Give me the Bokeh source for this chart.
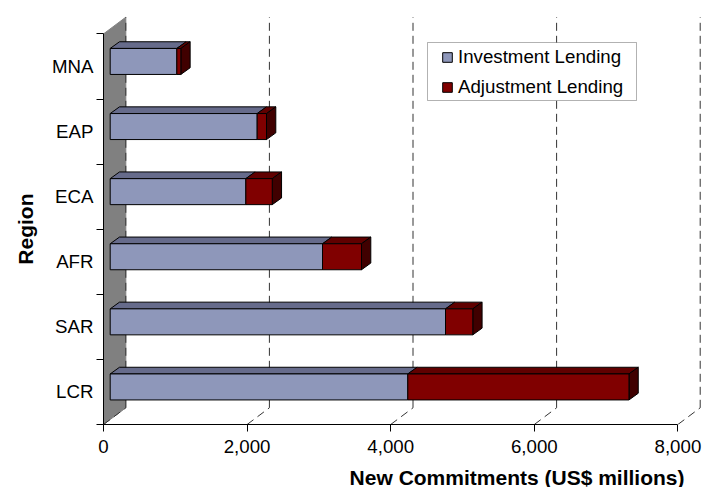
from bokeh.plotting import figure
from bokeh.models import FixedTicker, Legend, LegendItem, Range1d, Title, BoxAnnotation, NumeralTickFormatter
from bokeh.embed import file_html
from bokeh.resources import INLINE

regions = ["LCR", "SAR", "AFR", "ECA", "EAP", "MNA"]
investment = [4145, 4670, 2957, 1889, 2047, 928]
adjustment = [3080, 380, 543, 368, 130, 56]
x_ticks = [0, 2000, 4000, 6000, 8000]

PX_X = 0.0718          # pixels per US$ million
PX_Y = 65.1            # pixels per category
dX, dY = 22.3 / PX_X, 16.7 / PX_Y      # depth of the 3-D chart box
oX, oY = 6.7 / PX_X, 5.0 / PX_Y        # front-face offset of the bars
bX, bY = 9.3 / PX_X, 6.7 / PX_Y        # depth of each bar
bar_h = 26.0 / PX_Y

FONT = "Liberation Sans"
SIZE = "18.7px"
TITLE_SIZE = "21px"
BLUE, BLUE_TOP = "#8E97BA", "#666B8B"
RED, RED_TOP, RED_SIDE = "#800000", "#600000", "#400000"
n = len(regions)

p = figure(width=704, height=487, frame_width=601, frame_height=424,
           output_backend="svg", toolbar_location=None,
           x_range=Range1d(0, 601 / PX_X), y_range=Range1d(0, 424 / PX_Y),
           min_border_left=103, min_border_right=0, min_border_top=0, min_border_bottom=63,
           outline_line_color=None)
p.grid.visible = False

# back wall
p.patch([0, dX, dX, 0], [0, dY, n + dY, n], fill_color="#808080", line_color="#808080", line_width=1)

# dashed gridlines in the floor and on the back plane
for t in x_ticks:
    p.line([t, t + dX], [0, dY], line_color="#333333", line_width=1, line_dash="8 5")
    p.line([t + dX, t + dX], [dY, n + dY], line_color="#333333", line_width=1, line_dash="8 5")

# 3-D stacked bars
inv_face = None
adj_face = None
for i, (a, b) in enumerate(zip(investment, adjustment)):
    y0 = i + 0.5 + oY - bar_h / 2
    y1 = y0 + bar_h
    x0, x1, x2 = oX, oX + a, oX + a + b
    p.patch([x0, x1, x1 + bX, x0 + bX], [y1, y1, y1 + bY, y1 + bY],
            fill_color=BLUE_TOP, line_color="black", line_width=1)
    p.patch([x1, x2, x2 + bX, x1 + bX], [y1, y1, y1 + bY, y1 + bY],
            fill_color=RED_TOP, line_color="black", line_width=1)
    p.patch([x2, x2 + bX, x2 + bX, x2], [y0, y0 + bY, y1 + bY, y1],
            fill_color=RED_SIDE, line_color="black", line_width=1)
    inv_face = p.quad(left=[x0], right=[x1], bottom=[y0], top=[y1],
                      fill_color=BLUE, line_color="black", line_width=1)
    adj_face = p.quad(left=[x1], right=[x2], bottom=[y0], top=[y1],
                      fill_color=RED, line_color="black", line_width=1)

# axes
xa = p.xaxis[0]
xa.ticker = FixedTicker(ticks=x_ticks)
xa.formatter = NumeralTickFormatter(format="0,0")
xa.bounds = (0, 8000)
xa.major_tick_out = 7
xa.major_tick_in = 0
xa.minor_tick_out = 0
xa.minor_tick_in = 0
xa.major_label_standoff = 8
xa.major_label_text_font = FONT
xa.major_label_text_font_size = SIZE
xa.major_label_text_color = "black"
xa.axis_line_color = "black"
xa.major_tick_line_color = "black"

ya = p.yaxis[0]
ya.ticker = FixedTicker(ticks=[i + 0.5 for i in range(n)], minor_ticks=list(range(n + 1)))
ya.major_label_overrides = {i + 0.5: r for i, r in enumerate(regions)}
ya.bounds = (0, n)
ya.major_tick_out = 0
ya.major_tick_in = 0
ya.minor_tick_out = 7
ya.minor_tick_in = 0
ya.major_label_standoff = 3
ya.major_label_text_font = FONT
ya.major_label_text_font_size = SIZE
ya.major_label_text_color = "black"
ya.axis_line_color = "black"
ya.minor_tick_line_color = "black"

# axis titles
p.add_layout(Title(text="New Commitments (US$ millions)", align="right", offset=20, standoff=16,
                   text_font=FONT, text_font_size=TITLE_SIZE, text_font_style="bold", text_color="black"), "below")
p.add_layout(Title(text="Region", align="right", offset=193, standoff=20, vertical_align="top",
                   text_font=FONT, text_font_size=TITLE_SIZE, text_font_style="bold", text_color="black"), "left")

# legend frame, wider than the legend's own padding allows
p.add_layout(BoxAnnotation(left=427, right=636, top=42, bottom=100,
                           left_units="canvas", right_units="canvas", top_units="canvas", bottom_units="canvas",
                           fill_color="white", fill_alpha=1.0, line_color="black", line_width=1))
legend = Legend(items=[LegendItem(label="Investment Lending", renderers=[inv_face]),
                       LegendItem(label="Adjustment Lending", renderers=[adj_face])],
                location=(338, 326), orientation="vertical",
                label_text_font=FONT, label_text_font_size=SIZE, label_text_color="black",
                glyph_width=12, glyph_height=12, label_standoff=5, spacing=8,
                padding=4, margin=0, border_line_color=None,
                background_fill_alpha=0.0)
p.add_layout(legend, "center")

open("out.html", "w").write(file_html(p, INLINE))
